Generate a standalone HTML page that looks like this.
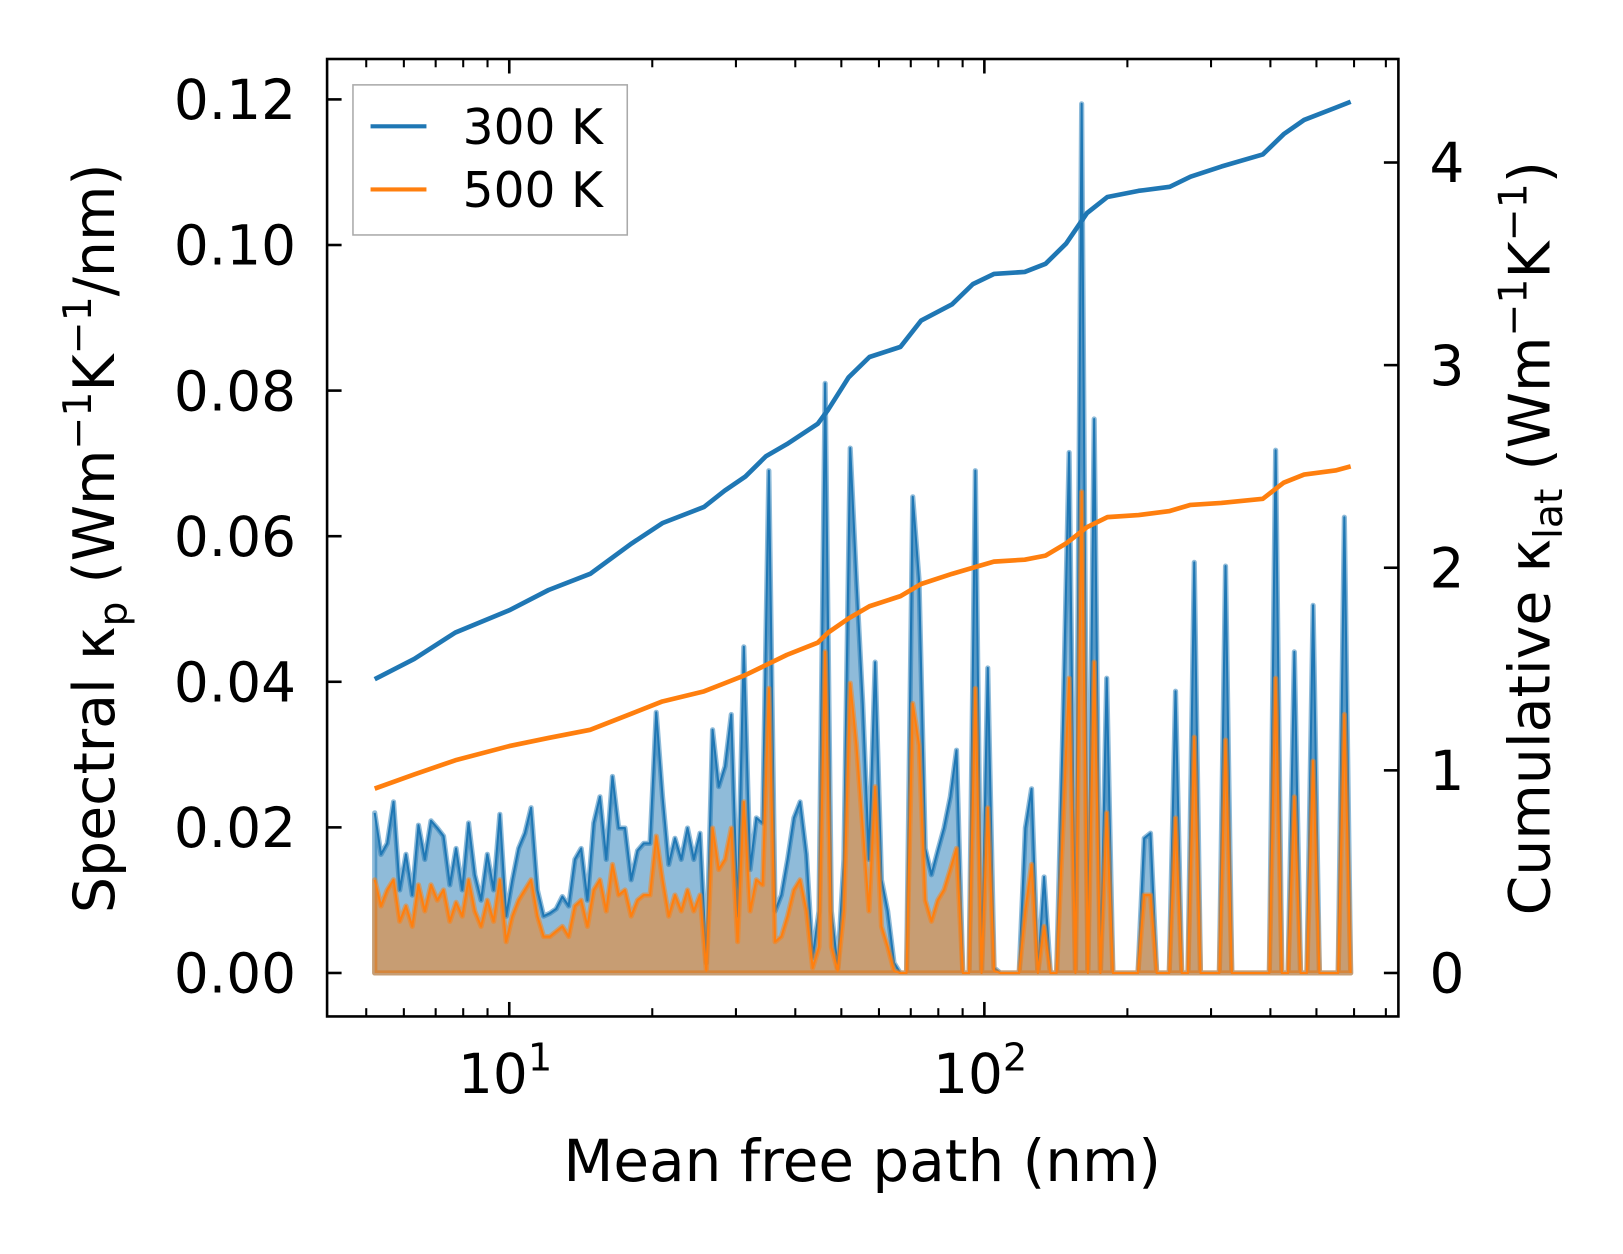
<!DOCTYPE html>
<html><head><meta charset="utf-8">
<style>
html,body{margin:0;padding:0;background:#fff;}
svg{display:block;font-family:"DejaVu Sans","Liberation Sans",sans-serif;}
</style></head>
<body>
<svg id="chart" width="1623" height="1254" viewBox="0 0 1568 1211.5" xmlns="http://www.w3.org/2000/svg">
<rect width="1568" height="1211.5" fill="#fff"/>
<g id="plot"></g>
<g id="axes"></g>
<text x="833" y="1141" font-size="56" text-anchor="middle">Mean free path (nm)</text>
<text transform="translate(110,520) rotate(-90)" font-size="55" text-anchor="middle">Spectral κ<tspan font-size="38" dy="12">p</tspan><tspan dy="-12"> (Wm</tspan><tspan font-size="38" dy="-22">−1</tspan><tspan dy="22">K</tspan><tspan font-size="38" dy="-22">−1</tspan><tspan dy="22">/nm)</tspan></text>
<text transform="translate(1497,520) rotate(-90)" font-size="55" text-anchor="middle">Cumulative κ<tspan font-size="38" dy="12">lat</tspan><tspan dy="-12"> (Wm</tspan><tspan font-size="38" dy="-22">−1</tspan><tspan dy="22">K</tspan><tspan font-size="38" dy="-22">−1</tspan><tspan dy="22">)</tspan></text>
<g>
<rect x="341" y="82" width="265" height="145" fill="#fff" stroke="#aaa" stroke-width="1.5"/>
<line x1="358" y1="122" x2="412" y2="122" stroke="#1f77b4" stroke-width="4"/>
<text x="447" y="139" font-size="47">300 K</text>
<line x1="358" y1="183" x2="412" y2="183" stroke="#ff7f0e" stroke-width="4"/>
<text x="447" y="200" font-size="47">500 K</text>
</g>
</svg>
<script>
const spec300 = [22.0,16.3,17.8,23.5,11.4,16.3,10.7,20.3,15.6,20.9,19.9,18.8,12.1,17.1,11.4,20.6,13.5,10.0,16.3,11.4,21.8,7.8,12.8,17.1,19.2,22.7,11.4,7.8,8.2,8.8,10.5,9.2,15.6,17.1,10.0,20.6,24.2,15.6,27.0,19.9,19.9,12.8,16.8,17.8,17.8,35.8,24.2,14.9,18.5,15.6,19.9,15.6,19.2,1.4,33.4,25.6,28.4,35.5,7.8,44.8,14.2,21.3,20.6,69.0,8.5,10.7,15.6,21.3,23.5,16.3,2.1,8.5,81.0,8.5,0.7,15.6,72.1,54.0,37.0,15.6,42.7,12.8,8.5,1.4,0,0,65.4,54.0,17.1,13.5,16.8,19.9,24.2,30.6,0,0,69.0,0,41.9,0.7,0,0,0,0,19.9,25.3,0,13.2,0,0,34.1,71.5,0,119.4,0,76.1,0,40.5,0,0,0,0,0,18.5,19.2,0,0,0,38.7,0,0,56.4,0,0,0,0,55.9,0,0,0,0,0,0,0,71.8,0,0,44.1,0,0,50.5,0,0,0,0,62.6,0];
const spec500 = [12.8,9.2,11.4,12.8,7.1,9.2,6.4,12.1,8.5,12.1,10.0,11.4,7.1,9.7,7.8,12.8,8.5,6.4,10.0,7.1,12.8,4.3,7.8,10.0,11.4,12.8,7.8,5.0,5.0,5.7,6.4,5.0,9.2,10.0,6.4,11.4,12.8,8.5,14.9,10.7,11.4,7.8,10.0,10.7,10.7,18.8,12.8,7.8,10.7,8.5,11.4,8.5,10.7,0.3,19.9,14.2,15.6,19.9,4.3,23.5,8.5,12.8,12.1,39.1,4.3,5.0,7.8,11.4,12.8,8.5,0.7,3.6,44.1,3.6,0.3,8.5,39.8,31.3,19.9,8.5,25.6,6.4,3.6,0.3,0,0,37.0,31.3,10.0,7.1,10.0,11.4,14.2,17.1,0,0,39.1,0,22.7,0.3,0,0,0,0,8.5,14.9,0,6.4,0,0,19.9,40.5,0,66.1,0,42.7,0,22.0,0,0,0,0,0,10.7,10.7,0,0,0,21.3,0,0,32.4,0,0,0,0,32.0,0,0,0,0,0,0,0,40.5,0,0,24.2,0,0,29.1,0,0,0,0,35.5,0];
const cumX = [5.21,6.31,7.70,10,12.1,14.8,18.1,21.0,25.7,28.4,31.4,34.7,38.4,44.6,46.9,51.8,57.3,66.6,73.6,85.5,94.6,104.7,121.6,134.5,148.6,164.4,181.6,211.2,245.6,271.6,315.5,385.5,426.6,471.0,548.3,590.2];
const cum300 = [1.45,1.55,1.68,1.79,1.89,1.97,2.12,2.22,2.30,2.38,2.45,2.55,2.61,2.71,2.78,2.94,3.04,3.09,3.22,3.30,3.40,3.45,3.46,3.50,3.60,3.75,3.83,3.86,3.88,3.93,3.98,4.04,4.14,4.21,4.27,4.30];
const cum500 = [0.91,0.98,1.05,1.12,1.16,1.20,1.28,1.34,1.39,1.43,1.47,1.52,1.57,1.63,1.68,1.75,1.81,1.86,1.92,1.97,2.00,2.03,2.04,2.06,2.12,2.20,2.25,2.26,2.28,2.31,2.32,2.34,2.42,2.46,2.48,2.50];
const leftTicks = [0,0.02,0.04,0.06,0.08,0.10,0.12];
const leftTickLabels = ["0.00","0.02","0.04","0.06","0.08","0.10","0.12"];
const rightTicks = [0,1,2,3,4];
const xMajor = [10,100];
const mfpMin = 5.21, mfpMax = 590.2;

const NS="http://www.w3.org/2000/svg";
const L=316,R=1351,T=57,B=982;
const xs = v => 492 + (Math.log10(v)-1)*459;
const yl = v => 940 - v*7033;
const yr = v => 940 - v*195.75;
const mfp = spec300.map((_,i)=>Math.pow(10, Math.log10(mfpMin)+i*(Math.log10(mfpMax)-Math.log10(mfpMin))/(spec300.length-1)));

function mk(tag,attrs,parent){const e=document.createElementNS(NS,tag);for(const k in attrs)e.setAttribute(k,attrs[k]);parent.appendChild(e);return e;}
const plot=document.getElementById('plot'), axes=document.getElementById('axes');

function drawSpec(vals,color,name){
  const pts = vals.map((v,i)=>[xs(mfp[i]), yl(v/1000)]);
  const line = pts.map((p,i)=>(i?'L':'M')+p[0].toFixed(1)+' '+p[1].toFixed(1)).join(' ');
  const area = line+` L${pts[pts.length-1][0].toFixed(1)} ${yl(0)} L${pts[0][0].toFixed(1)} ${yl(0)} Z`;
  const a=mk('path',{d:area,fill:color,'fill-opacity':0.5,stroke:color,'stroke-opacity':0.5,'stroke-width':5,'stroke-linejoin':'round'},plot);
  
  
  const l=mk('path',{d:line,fill:'none',stroke:color,'stroke-width':2,'stroke-linejoin':'round'},plot);
  
  
}
drawSpec(spec300,'#1f77b4','spectral-300k');
drawSpec(spec500,'#ff7f0e','spectral-500k');

function drawCum(vals,color,name){
  const d = vals.map((v,i)=>(i?'L':'M')+xs(cumX[i]).toFixed(1)+' '+yr(v).toFixed(1)).join(' ');
  const p=mk('path',{d:d,fill:'none',stroke:color,'stroke-width':4.5,'stroke-linejoin':'round'},plot);
  
  
}
drawCum(cum300,'#1f77b4','cumulative-300k');
drawCum(cum500,'#ff7f0e','cumulative-500k');

const fr=mk('rect',{x:L,y:T,width:R-L,height:B-T,fill:'none',stroke:'#000','stroke-width':2.5},axes);



leftTicks.forEach((v,i)=>{
  const y=yl(v);
  mk('line',{x1:L,y1:y,x2:L+14,y2:y,stroke:'#000','stroke-width':2.5},axes);
  const t=mk('text',{x:L-30,y:y+19,'font-size':53,'text-anchor':'end'},axes);
  t.textContent=leftTickLabels[i];
  
  
});
rightTicks.forEach(v=>{
  const y=yr(v);
  mk('line',{x1:R-14,y1:y,x2:R,y2:y,stroke:'#000','stroke-width':2.5},axes);
  const t=mk('text',{x:R+30,y:y+19,'font-size':53,'text-anchor':'start'},axes);
  t.textContent=String(v);
  
  
});
for(let dec=1;dec<=100;dec*=10){
  for(let m=1;m<10;m++){
    const v=dec*m, x=xs(v);
    if(x<L||x>R) continue;
    const major=(m===1);
    const len=major?14:8;
    mk('line',{x1:x,y1:B,x2:x,y2:B-len,stroke:'#000','stroke-width':major?2.5:2},axes);
    mk('line',{x1:x,y1:T,x2:x,y2:T+len,stroke:'#000','stroke-width':major?2.5:2},axes);
  }
}
xMajor.forEach(v=>{
  const x=xs(v);
  const t=mk('text',{x:x-4,y:1056,'font-size':53,'text-anchor':'middle'},axes);
  
  
  const exp=Math.round(Math.log10(v));
  t.appendChild(document.createTextNode('10'));
  const s=document.createElementNS(NS,'tspan');
  s.setAttribute('font-size','37');s.setAttribute('dy','-22');
  s.textContent=String(exp);
  t.appendChild(s);
});
</script>
</body></html>
